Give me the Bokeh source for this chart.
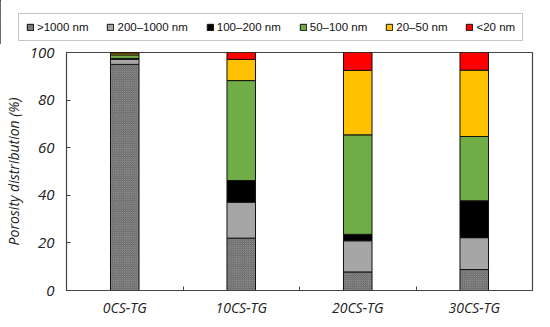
from bokeh.plotting import figure
from bokeh.models import ColumnDataSource, Legend, LegendItem, FixedTicker, Range1d
from bokeh.layouts import column
from bokeh.embed import file_html
from bokeh.resources import INLINE

categories = ["0CS-TG", "10CS-TG", "20CS-TG", "30CS-TG"]
series_names = [">1000 nm", "200\u20131000 nm", "100\u2013200 nm", "50\u2013100 nm", "20\u201350 nm", "<20 nm"]
gt1000 = [95.0, 22.0, 7.8, 8.8]
s200_1000 = [2.2, 15.1, 13.1, 13.4]
s100_200 = [0.3, 9.1, 2.7, 15.5]
s50_100 = [1.5, 42.0, 41.8, 27.0]
s20_50 = [0.8, 8.9, 27.1, 27.9]
lt20 = [0.2, 2.9, 7.5, 7.4]
y_ticks = [0, 20, 40, 60, 80, 100]

colors = ["#5a5a5a", "#a6a6a6", "#000000", "#70ad47", "#ffc000", "#ff0000"]
hatches = ["x", " ", " ", " ", " ", " "]
keys = ["a", "b", "c", "d", "e", "f"]

xpos = list(range(1, len(categories) + 1))
src = ColumnDataSource(dict(x=xpos, a=gt1000, b=s200_1000, c=s100_200, d=s50_100, e=s20_50, f=lt20))

bar_style = dict(line_color="#111111", line_width=1, hatch_color="#8a8a8a",
                 hatch_scale=2.2, hatch_weight=1)

# ---- main plot ----
p = figure(width=534, height=275, output_backend="svg", toolbar_location=None,
           x_range=Range1d(0.5, 4.5), y_range=Range1d(0, 100),
           min_border_left=56, min_border_right=2, min_border_top=8, min_border_bottom=28)
p.frame_align = False

rs = p.vbar_stack(keys, x="x", width=0.245, source=src, fill_color=colors,
                  hatch_pattern=hatches, **bar_style)

p.xgrid.visible = False
p.ygrid.visible = False
p.outline_line_color = "#444444"
p.outline_line_width = 1.2

ax = p.xaxis[0]
ax.ticker = FixedTicker(ticks=xpos, minor_ticks=[1.5, 2.5, 3.5])
ax.major_label_overrides = {i + 1: c for i, c in enumerate(categories)}
ax.major_tick_in = 0
ax.major_tick_out = 0
ax.minor_tick_in = 4
ax.minor_tick_out = 0
ax.minor_tick_line_color = "#444444"
ax.axis_line_color = "#444444"
ax.major_label_text_font = "Open Sans"
ax.major_label_text_font_style = "italic"
ax.major_label_text_font_size = "14px"
ax.major_label_text_color = "#222222"
ax.major_label_standoff = 7

ay = p.yaxis[0]
ay.ticker = FixedTicker(ticks=y_ticks)
ay.major_tick_in = 4
ay.major_tick_out = 0
ay.minor_tick_line_color = None
ay.axis_line_color = "#444444"
ay.major_tick_line_color = "#444444"
ay.major_label_text_font = "Open Sans"
ay.major_label_text_font_style = "italic"
ay.major_label_text_font_size = "15px"
ay.major_label_text_color = "#222222"
ay.major_label_standoff = 12
ay.axis_label = "Porosity distribution (%)"
ay.axis_label_text_font = "Open Sans"
ay.axis_label_text_font_style = "italic"
ay.axis_label_text_font_size = "14px"
ay.axis_label_text_color = "#222222"
ay.axis_label_standoff = 4

# ---- legend strip ----
lf = figure(width=534, height=44, output_backend="svg", toolbar_location=None,
            x_axis_type=None, y_axis_type=None,
            x_range=Range1d(0, 1), y_range=Range1d(0, 1),
            min_border_left=0, min_border_right=0, min_border_top=0, min_border_bottom=0)
lf.frame_align = False
lf.grid.visible = False
lf.outline_line_color = None
dummy = ColumnDataSource(dict(x=[-5], a=[1], b=[1], c=[1], d=[1], e=[1], f=[1]))
lrs = lf.vbar_stack(keys, x="x", width=0.1, source=dummy, fill_color=colors,
                    hatch_pattern=hatches, **bar_style)
items = [LegendItem(label=n, renderers=[r]) for n, r in zip(series_names, lrs)]
leg = Legend(items=items, orientation="horizontal", location=(18, 3),
             label_text_font="Liberation Sans", label_text_font_size="11.5px",
             label_text_color="#111111", glyph_width=8, glyph_height=8,
             label_standoff=3, spacing=18, padding=7, margin=0,
             border_line_color="#888888", border_line_width=1,
             label_height=10)
lf.add_layout(leg, "center")

layout = column(lf, p, spacing=0)
open("out.html", "w").write(file_html(layout, INLINE))
